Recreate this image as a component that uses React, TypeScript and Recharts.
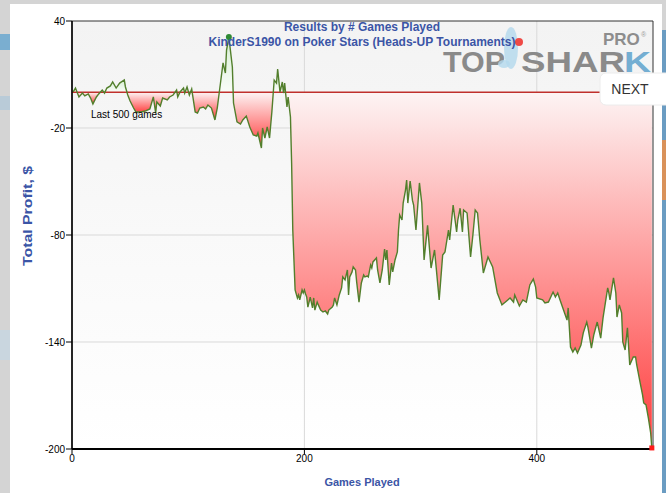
import React from 'react'
import {
  ComposedChart,
  Area,
  Line,
  XAxis,
  YAxis,
  CartesianGrid,
  ReferenceLine,
  ReferenceDot,
  ReferenceArea,
} from 'recharts'

// games played (x) and cumulative profit in $ (y)
const games = [
  1, 3, 6, 9, 11, 14, 16, 18, 21, 23, 26, 28, 30, 33, 35, 38, 41, 45, 46, 48,
  50, 53, 55, 59, 63, 67, 70, 72, 73, 76, 78, 82, 84, 87, 90, 91, 93, 96, 97, 99,
  101, 103, 106, 108, 110, 113, 115, 117, 120, 123, 125, 127, 130, 132, 133, 135, 138, 139, 142, 145,
  147, 150, 153, 156, 159, 160, 163, 164, 166, 168, 170, 172, 174, 176, 177, 179, 181, 182, 183, 185,
  186, 188, 189, 190, 192, 194, 195, 196, 198, 199, 200, 201, 202, 203, 205, 207, 208, 209, 211, 212,
  214, 216, 218, 220, 221, 224, 225, 226, 228, 230, 232, 233, 235, 237, 238, 239, 241, 242, 244, 245,
  247, 249, 251, 252, 254, 255, 257, 258, 259, 262, 263, 265, 267, 269, 270, 271, 273, 275, 276, 278,
  280, 281, 282, 284, 285, 287, 288, 289, 291, 293, 294, 296, 299, 301, 303, 306, 309, 312, 316, 319,
  321, 324, 325, 328, 331, 332, 334, 336, 337, 340, 343, 345, 347, 349, 351, 354, 358, 362, 366, 370,
  373, 375, 377, 380, 381, 385, 388, 391, 394, 397, 399, 400, 405, 407, 410, 414, 416, 418, 420, 423,
  426, 427, 429, 431, 433, 435, 438, 440, 443, 444, 447, 449, 452, 455, 457, 461, 462, 463, 466, 468,
  469, 471, 473, 474, 476, 478, 480, 483, 485, 486, 489, 491, 492, 494, 496, 498, 499,
]
const profit = [
  0.2, 2.4, -2.6, -0.4, -2.0, -0.9, -3.2, -6.5, -2.6, -0.9, 1.3, -0.4, 2.4, 3.6, 5.8, 2.4, 5.2, 6.9, 3.0, -1.5,
  -4.9, -8.8, -11.0, -11.0, -10.5, -9.3, -2.6, -11.6, -5.4, -7.7, -3.2, -4.3, -2.6, -1.5, 1.3, -2.6, 0.2, 2.4, -0.4, 3.0,
  -1.5, 1.9, -11.0, -11.6, -8.8, -8.2, -9.3, -7.1, -8.8, -15.5, -8.8, 1.3, 16.5, 10.8, 23.7, 31.0, 14.2, -6.0, -16.6, -17.8,
  -15.5, -13.3, -19.4, -23.9, -24.5, -22.8, -31.2, -20.0, -25.6, -19.4, -25.6, -11.0, 6.9, 5.2, 13.1, 0.2, 5.8, -0.4, 5.2, -8.2,
  -2.6, -13.8, -39.6, -77.2, -110.8, -115.3, -113.6, -116.4, -110.8, -112.5, -110.8, -113.1, -114.8, -120.4, -114.8, -120.9, -115.3, -122.1, -117.6, -119.2,
  -122.1, -123.2, -122.6, -124.3, -122.1, -120.4, -119.2, -115.3, -119.2, -113.6, -109.7, -103.5, -105.2, -99.6, -113.6, -103.5, -100.7, -97.9, -99.6, -106.4,
  -117.6, -106.9, -102.4, -103.5, -103.0, -103.5, -96.8, -98.5, -95.1, -92.9, -99.6, -106.9, -99.6, -87.9, -94.0, -88.4, -108.0, -95.7, -100.7, -94.0,
  -89.5, -77.2, -68.8, -71.6, -62.1, -54.8, -49.2, -62.1, -49.8, -60.6, -63.2, -77.2, -50.8, -62.1, -94.0, -74.6, -98.5, -88.4, -116.4, -91.2,
  -89.5, -77.2, -82.8, -63.2, -78.3, -71.6, -65.0, -78.3, -66.0, -67.7, -92.3, -80.0, -66.0, -67.7, -82.8, -101.3, -92.3, -97.9, -112.5, -119.2,
  -117.6, -116.4, -115.3, -117.6, -113.6, -119.8, -116.4, -117.6, -108.0, -104.7, -109.2, -115.3, -116.4, -118.1, -117.6, -112.0, -114.8, -112.5, -116.4, -122.1,
  -127.7, -120.9, -142.8, -145.6, -143.4, -146.2, -141.7, -134.9, -128.8, -131.6, -143.4, -136.1, -128.8, -137.8, -126.5, -109.7, -112.5, -116.4, -104.1, -112.5,
  -126.0, -119.2, -123.7, -140.0, -144.5, -132.1, -152.9, -148.4, -148.4, -152.9, -163.0, -169.7, -174.2, -175.3, -182.6, -191.0, -199.4,
]

const yTicks = [40, -20, -80, -140, -200]
const xTicks = [0, 200, 400]

const points = games.map((g, i) => ({ game: g, profit: profit[i] }))

// split into runs above / below zero so every hump gets its own gradient
type Seg = { neg: boolean; data: { game: number; profit: number }[]; off: number }
function buildSegments(): Seg[] {
  const segs: Seg[] = []
  let i = 0
  while (i < points.length) {
    const neg = points[i].profit < 0
    let j = i
    while (j + 1 < points.length && points[j + 1].profit < 0 === neg) j++
    const data = points.slice(Math.max(0, i - 1), Math.min(points.length, j + 2))
    const vals = data.map((d) => d.profit)
    const top = Math.max(0, ...vals)
    const bottom = Math.min(0, ...vals)
    const off = top - bottom === 0 ? 0 : top / (top - bottom)
    segs.push({ neg, data, off })
    i = j + 1
  }
  return segs
}
const segments = buildSegments()

const maxIdx = profit.indexOf(Math.max(...profit))
const minIdx = profit.indexOf(Math.min(...profit))

const font = '"Liberation Sans", Arial, sans-serif'
const blue = '#3b55a6'

export default function App() {
  return (
    <div style={{ position: 'absolute', left: 0, top: 0, width: 666, height: 493, background: '#d4d4d4', overflow: 'hidden' }}>
      {/* bits of the page behind the popup */}
      <div style={{ position: 'absolute', left: 0, top: 34, width: 10, height: 16, background: '#7aaed0' }} />
      <div style={{ position: 'absolute', left: 0, top: 96, width: 10, height: 14, background: '#b9cbd8' }} />
      <div style={{ position: 'absolute', left: 0, top: 330, width: 10, height: 30, background: '#c9d6df' }} />
      <div style={{ position: 'absolute', left: 662, top: 30, width: 4, height: 463, background: '#6b9cc2' }} />
      <div style={{ position: 'absolute', left: 662, top: 140, width: 4, height: 60, background: '#d9925a' }} />
      <div style={{ position: 'absolute', left: 10, top: 4, width: 652, height: 489, background: '#ffffff' }} />

      <div style={{ position: 'absolute', left: 0, top: 0 }}>
        <ComposedChart
          width={666}
          height={493}
          data={points}
          margin={{ top: 21, right: 13, bottom: 14, left: 0 }}
        >
          <defs>
            <linearGradient id="plotBg" x1="0" y1="0" x2="0" y2="1">
              <stop offset="0" stopColor="#f3f3f3" />
              <stop offset="1" stopColor="#ffffff" />
            </linearGradient>
            {segments.map((s, k) =>
              s.neg ? (
                <linearGradient key={k} id={`seg${k}`} x1="0" y1="0" x2="0" y2="1">
                  <stop offset={0} stopColor="#ffffff" stopOpacity={0} />
                  <stop offset={s.off} stopColor="#ffffff" stopOpacity={0} />
                  <stop offset={s.off} stopColor="#fdf4f4" stopOpacity={1} />
                  <stop offset={1} stopColor="#ff3b3b" stopOpacity={1} />
                </linearGradient>
              ) : (
                <linearGradient key={k} id={`seg${k}`} x1="0" y1="0" x2="0" y2="1">
                  <stop offset={0} stopColor="#d6eed2" stopOpacity={1} />
                  <stop offset={s.off} stopColor="#fafdf9" stopOpacity={1} />
                  <stop offset={s.off} stopColor="#ffffff" stopOpacity={0} />
                  <stop offset={1} stopColor="#ffffff" stopOpacity={0} />
                </linearGradient>
              )
            )}
          </defs>
          <CartesianGrid
            stroke="#d9d9d9"
            strokeWidth={1}
            fill="url(#plotBg)"
            horizontalValues={[-20, -80, -140]}
            verticalValues={[200, 400]}
          />
          <XAxis
            dataKey="game"
            type="number"
            domain={[0, 500]}
            ticks={xTicks}
            height={30}
            tickSize={5}
            tickMargin={1}
            axisLine={{ stroke: '#000', strokeWidth: 2 }}
            tickLine={{ stroke: '#000' }}
            tick={{ fontSize: 10, fill: '#000', fontFamily: font }}
            allowDataOverflow
          />
          <YAxis
            type="number"
            domain={[-200, 40]}
            ticks={yTicks}
            width={72}
            tickSize={6}
            tickMargin={1}
            axisLine={{ stroke: '#000', strokeWidth: 1.5 }}
            tickLine={{ stroke: '#000' }}
            tick={{ fontSize: 10, fill: '#000', fontFamily: font }}
            allowDataOverflow
          />
          <ReferenceArea x1={0} x2={500} y1={-200} y2={40} fill="none" stroke="#333" strokeWidth={1} />
          {segments.map((s, k) => (
            <Area
              key={k}
              data={s.data}
              dataKey="profit"
              type="linear"
              baseValue={0}
              stroke="none"
              fill={`url(#seg${k})`}
              fillOpacity={1}
              isAnimationActive={false}
            />
          ))}
          <ReferenceLine y={0} stroke="#c0302c" strokeWidth={1.5} />
          <Line
            dataKey="profit"
            type="linear"
            stroke="#527f2c"
            strokeWidth={1.4}
            dot={false}
            activeDot={false}
            isAnimationActive={false}
          />
          <ReferenceDot x={games[maxIdx]} y={profit[maxIdx]} r={3} fill="#2f8a35" stroke="none" />
          <ReferenceDot
            x={games[minIdx]}
            y={profit[minIdx]}
            shape={(p: { cx: number; cy: number }) => (
              <rect x={p.cx - 2.5} y={p.cy - 2.5} width={5} height={5} fill="#ff1a1a" />
            )}
          />
        </ComposedChart>
      </div>

      <svg width={666} height={493} style={{ position: 'absolute', left: 0, top: 0, pointerEvents: 'none' }}>
        {/* logo */}
        <text x={603} y={45} fontFamily={font} fontWeight="bold" fontSize={17} fill="#8d8d8d">PRO</text>
        <text x={641} y={37} fontFamily={font} fontSize={7} fill="#9a9a9a">®</text>
        <text x={443} y={72} fontFamily={font} fontWeight="bold" fontSize={29} fill="#8a8a8a" textLength={62} lengthAdjust="spacingAndGlyphs">TOP</text>
        <text x={521} y={72} fontFamily={font} fontWeight="bold" fontSize={29} fill="#8a8a8a" textLength={104} lengthAdjust="spacingAndGlyphs">SHAR</text>
        <text x={624} y={72} fontFamily={font} fontWeight="bold" fontSize={29} fill="#74aed2" textLength={27} lengthAdjust="spacingAndGlyphs">K</text>
        <ellipse cx={511} cy={48} rx={7} ry={21} fill="#b3d8ec" opacity={0.8} />
        <ellipse cx={504} cy={64} rx={6} ry={4} fill="#b3d8ec" opacity={0.8} />
        <circle cx={519} cy={42} r={4} fill="#ef4a46" />

        <text x={362} y={31} textAnchor="middle" fontFamily={font} fontWeight="bold" fontSize={12} fill={blue}>
          Results by # Games Played
        </text>
        <text x={362} y={46} textAnchor="middle" fontFamily={font} fontWeight="bold" fontSize={12} fill={blue}>
          KinderS1990 on Poker Stars (Heads-UP Tournaments)
        </text>
        <text x={91} y={118} fontFamily={font} fontSize={10} fill="#000">Last 500 games</text>
        <text x={362} y={486} textAnchor="middle" fontFamily={font} fontWeight="bold" fontSize={11} fill={blue}>
          Games Played
        </text>
        <text
          transform="translate(32,216) rotate(-90)"
          textAnchor="middle"
          fontFamily={font}
          fontWeight="bold"
          fontSize={12}
          fill={blue}
          textLength={100}
          lengthAdjust="spacingAndGlyphs"
        >
          Total Profit, $
        </text>

        {/* NEXT button */}
        <rect x={600} y={73} width={72} height={32} rx={6} fill="#ffffff" stroke="#ececec" />
        <text x={630} y={94} textAnchor="middle" fontFamily={font} fontSize={14} fill="#333">NEXT</text>
      </svg>
    </div>
  )
}
